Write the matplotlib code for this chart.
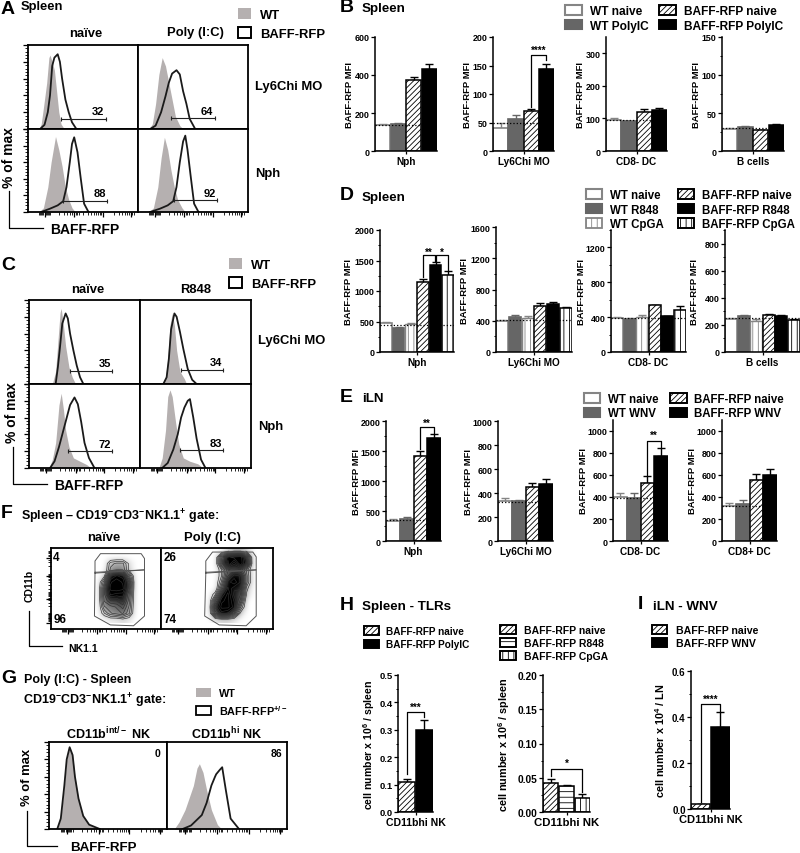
import numpy as np
import matplotlib
matplotlib.use('Agg')
import matplotlib.pyplot as plt
from matplotlib.lines import Line2D
from matplotlib.patches import Patch
from matplotlib.ticker import AutoMinorLocator

W, H = 800, 854
plt.rcParams['font.family'] = ['Liberation Sans', 'DejaVu Sans']
plt.rcParams['font.weight'] = 'bold'
plt.rcParams['axes.labelweight'] = 'bold'
plt.rcParams['hatch.linewidth'] = 0.6
plt.rcParams['mathtext.fontset'] = 'custom'
plt.rcParams['mathtext.bf'] = 'Liberation Sans:bold'
plt.rcParams['mathtext.rm'] = 'Liberation Sans:bold'
plt.rcParams['mathtext.default'] = 'bf'

GREY_FILL = '#b5b0b0'
MID = '#666666'
EDGE = '#858585'

# bar data, one list per group of bars
B_NPH, B_NPH_ERR = [135, 140, 372, 432], [8, 10, 20, 27]
B_LY, B_LY_ERR = [41, 57, 70, 143], [8, 6, 4, 9]
B_CD8, B_CD8_ERR = [95, 91, 120, 125], [6, 2, 8, 6]
B_BC, B_BC_ERR = [29, 31, 27, 34], [1.5, 1.5, 1, 1]
D_NPH, D_NPH_ERR = [470, 400, 465, 1140, 1430, 1265], [30, 15, 12, 50, 40, 65]
D_LY, D_LY_ERR = [400, 450, 440, 585, 615, 565], [10, 25, 15, 40, 30, 15]
D_CD8, D_CD8_ERR = [385, 380, 405, 535, 410, 480], [15, 10, 25, 8, 5, 45]
D_BC, D_BC_ERR = [245, 265, 230, 275, 265, 235], [8, 8, 15, 6, 5, 5]
E_NPH, E_NPH_ERR = [330, 365, 1420, 1715], [30, 35, 80, 65]
E_LY, E_LY_ERR = [335, 330, 450, 478], [20, 12, 30, 35]
E_CD8N, E_CD8N_ERR = [400, 395, 525, 775], [35, 40, 65, 70]
E_CD8P, E_CD8P_ERR = [318, 335, 555, 600], [25, 35, 50, 55]
H_POLY, H_POLY_ERR = [0.11, 0.30], [0.012, 0.037]
H_TLR, H_TLR_ERR = [0.043, 0.038, 0.021], [0.005, 0.002, 0.005]
I_WNV, I_WNV_ERR = [0.02, 0.358], [0.003, 0.063]

# histograms, x and height as a fraction of the plot
A1_WT = ([.10, .12, .14, .17, .19, .20, .22, .24, .26, .28, .30, .33], [0, .06, .25, .55, .85, .88, .8, .7, .45, .2, .06, 0])
A1_RFP = ([.11, .15, .18, .20, .22, .24, .27, .29, .31, .34, .37, .40, .44], [0, .05, .2, .4, .75, .85, .89, .8, .6, .35, .2, .08, 0])
A2_WT = ([.10, .13, .16, .19, .22, .25, .28, .31, .34, .38, .41], [0, .06, .3, .65, .85, .75, .55, .35, .15, .04, 0])
A2_RFP = ([.11, .16, .21, .25, .28, .31, .35, .38, .41, .44, .47, .52], [0, .04, .2, .39, .55, .66, .7, .65, .45, .3, .12, 0])
A3_WT = ([.10, .14, .18, .21, .25, .28, .31, .34, .37, .40, .43], [0, .05, .3, .6, .91, .75, .55, .3, .15, .05, 0])
A3_RFP = ([.12, .2, .27, .32, .35, .38, .40, .42, .45, .48, .51, .55], [0, .04, .08, .13, .3, .6, .82, .9, .72, .4, .1, 0])
A4_WT = ([.10, .14, .18, .21, .24, .27, .30, .33, .36, .40, .43], [0, .05, .3, .65, .9, .75, .5, .3, .15, .05, 0])
A4_RFP = ([.11, .2, .27, .32, .35, .38, .41, .43, .45, .48, .51, .55], [0, .04, .08, .13, .3, .6, .85, .92, .75, .42, .1, 0])
C1_WT = ([.21, .24, .26, .28, .29, .31, .33, .36, .39, .42], [0, .15, .5, .85, .9, .7, .45, .2, .08, 0])
C1_RFP = ([.24, .26, .28, .30, .33, .35, .37, .40, .43, .46, .49], [0, .2, .45, .72, .84, .78, .6, .4, .22, .08, 0])
C2_WT = ([.20, .23, .25, .27, .29, .31, .33, .36, .40, .42], [0, .08, .3, .7, .84, .7, .4, .15, .06, 0])
C2_RFP = ([.21, .24, .26, .28, .31, .33, .36, .39, .43, .47, .51], [0, .08, .3, .65, .84, .8, .62, .42, .18, .05, 0])
C3_WT = ([.18, .21, .24, .27, .29, .31, .33, .36, .40, .46, .52, .56], [0, .1, .3, .75, .89, .7, .45, .25, .12, .08, .04, 0])
C3_RFP = ([.19, .23, .27, .31, .34, .37, .41, .44, .47, .50, .54, .59], [0, .08, .25, .45, .6, .75, .84, .76, .55, .3, .12, 0])
C4_WT = ([.17, .20, .23, .25, .27, .29, .32, .35, .39, .45, .52, .57], [0, .12, .45, .85, .93, .85, .55, .28, .12, .08, .05, 0])
C4_RFP = ([.20, .25, .30, .34, .37, .40, .43, .45, .48, .51, .55, .59], [0, .06, .22, .4, .6, .72, .8, .82, .6, .35, .1, 0])
G1_WT = ([.07, .10, .13, .15, .175, .20, .22, .25, .29, .34, .43], [0, .12, .5, .8, .94, .85, .6, .35, .15, .05, 0])
G2_WT = ([.06, .10, .15, .19, .22, .25, .27, .30, .33, .37, .42, .455], [0, .08, .22, .38, .5, .7, .75, .65, .45, .22, .05, 0])
G2_RFP = ([.13, .20, .245, .29, .33, .37, .40, .41, .44, .46, .49, .53, .60], [0, .04, .1, .16, .3, .5, .6, .63, .68, .71, .45, .12, 0])

A_GATES = [(.30, .71, .12, '32'), (.30, .70, .13, '64'), (.32, .72, .135, '88'), (.33, .72, .14, '92')]
C_GATES = [(.37, .75, .16, '35'), (.37, .75, .17, '34'), (.35, .75, .20, '72'), (.36, .75, .21, '83')]

F_NAIVE = [[0, 0, 0, 0, 0, 0, 0, 0],
           [0, 0, 0, 0, 0, 0, 0, 0],
           [0, 0, .25, .3, .3, .1, 0, 0],
           [0, 0, .3, .35, .35, .1, 0, 0],
           [0, .1, .75, .85, .8, .4, 0, 0],
           [0, .35, .9, 1, .9, .6, 0, 0],
           [0, .5, .95, 1, .95, .55, 0, 0],
           [0, .5, .85, .8, .8, .45, 0, 0],
           [0, .45, .6, .6, .7, .4, 0, 0],
           [0, .35, .4, .45, .55, .35, 0, 0],
           [0, .2, .35, .4, .45, .3, 0, 0],
           [0, 0, .05, .05, .1, .05, 0, 0]]
F_POLY = [[0, 0, 0, .1, .2, .2, .1, 0],
          [0, 0, .5, .9, .95, 1, .6, 0],
          [0, 0, .55, .95, .7, 1, .7, 0],
          [0, 0, .2, .5, .55, .5, .25, 0],
          [0, 0, .2, .6, .8, .75, .3, 0],
          [0, 0, .3, .8, .9, .75, .3, 0],
          [0, 0, .45, .85, .7, .7, .15, 0],
          [0, .2, .75, .95, .65, .6, .1, 0],
          [0, .5, .9, .95, .75, .5, 0, 0],
          [0, .7, .95, .95, .8, .3, 0, 0],
          [0, .55, .8, .75, .5, .1, 0, 0],
          [0, .05, .1, .1, .05, 0, 0, 0]]
# gate outlines, axes fractions
F1_UP = ([.40, .40, .45, .82, .85, .85, .40], [.70, .84, .93, .93, .87, .73, .70])
F1_LOW = ([.40, .395, .54, .75, .85, .85, .40], [.69, .16, .05, .04, .16, .73, .69])
F2_UP = ([.40, .40, .46, .82, .85, .85, .40], [.70, .84, .95, .95, .89, .73, .70])
F2_LOW = ([.40, .39, .52, .76, .85, .85, .40], [.69, .16, .05, .04, .16, .73, .69])

fig = plt.figure(figsize=(W / 100, H / 100), dpi=100)


def txt(x, y, s, size=9.4, ha='left', rot=0, va='center'):
    fig.text(x / W, 1 - y / H, s, fontsize=size, ha=ha, va=va, rotation=rot, fontweight='bold')


def make_ax(l, t, r, b):
    return fig.add_axes([l / W, 1 - b / H, (r - l) / W, (b - t) / H])


def corner(x0, y0, y1, x1):
    fig.add_artist(Line2D([x0 / W, x0 / W, x1 / W], [1 - y0 / H, 1 - y1 / H, 1 - y1 / H],
                          transform=fig.transFigure, color='k', lw=0.9))


def legend(x, y, handles, labels, size, ncol=1, hl=1.43, hh=.85, pad=.67, cs=.84, ls=.25):
    fig.legend(handles, labels, loc='upper left', bbox_to_anchor=(x / W, 1 - y / H),
               bbox_transform=fig.transFigure, frameon=False, ncol=ncol, borderpad=0,
               borderaxespad=0, handlelength=hl, handleheight=hh, handletextpad=pad,
               columnspacing=cs, labelspacing=ls, prop={'weight': 'bold', 'size': size})


def log_ticks():
    pos = list(np.linspace(.10, .20, 11))
    for d in [.20, .42, .70]:
        pos += list(d + .26 * np.log10(np.arange(2, 11)))
    return pos


def facs_frame(ax, left=False, bottom=True):
    ax.set_xlim(0, 1)
    ax.set_ylim(0, 1)
    for s in ax.spines.values():
        s.set_linewidth(1.3)
    if bottom:
        ax.set_xticks([.42, .68, .94, .15])
        ax.set_xticks(log_ticks(), minor=True)
    else:
        ax.set_xticks([])
    ax.tick_params(axis='x', which='major', length=3.5, width=.9, labelbottom=False)
    ax.tick_params(axis='x', which='minor', length=2, width=.6)
    if left:
        ax.set_yticks(np.arange(0, 1.01, .2))
        ax.set_yticks(np.arange(0, 1.01, .04), minor=True)
    else:
        ax.set_yticks([])
    ax.tick_params(axis='y', which='major', length=3.5, width=.9, labelleft=False)
    ax.tick_params(axis='y', which='minor', length=2, width=.6)


def hist(ax, wt, rfp=None):
    ax.fill_between(wt[0], wt[1], color=GREY_FILL, lw=0)
    if rfp is None:
        rfp = wt
    ax.plot(rfp[0], rfp[1], color='#1a1a1a', lw=1.3)


def gate(ax, g):
    x0, x1, y, s = g
    ax.plot([x0, x1], [y, y], color='#222222', lw=.8, marker='|', ms=3.5, mew=.8)
    ax.text(x1 - .07, y + .03, s, ha='center', va='bottom', fontsize=8)


def bars(rect, vals, errs, style, ymax, step, cat, dot=None, dx=26, tick_fs=6.4, lab_fs=6.8,
         cat_fs=7.2, ylabel='BAFF-RFP MFI', fmt=None, minor=True):
    l, t, r, b = rect
    ax = make_ax(l, t, r, b)
    x = np.arange(len(vals))
    for i in x:
        fc, ec, ha, lw = style[i]
        ax.bar(i, vals[i], width=.97, facecolor=fc, edgecolor=ec, hatch=ha, linewidth=lw, zorder=2)
        ax.errorbar(i, vals[i], yerr=[[0], [errs[i]]], color=ec if fc != 'black' else 'k', capsize=2.6,
                    lw=1, capthick=1, zorder=1)
    if dot is not None:
        ax.axhline(dot, color='k', ls=':', lw=.9, zorder=3)
    ax.set_xlim(-.5, len(vals) - .5)
    ax.set_ylim(0, ymax)
    ax.patch.set_alpha(0)
    ax.spines['top'].set_visible(False)
    ax.spines['right'].set_visible(False)
    ax.spines['left'].set_linewidth(1.1)
    ax.spines['bottom'].set_linewidth(1.1)
    ax.set_xticks([(len(vals) - 1) / 2])
    ax.set_xticklabels([cat], fontsize=cat_fs)
    ticks = np.arange(0, ymax + step * .01, step)
    ax.set_yticks(ticks)
    if fmt:
        ax.set_yticklabels([fmt % v for v in ticks])
    if minor:
        ax.yaxis.set_minor_locator(AutoMinorLocator(2))
    ax.tick_params(axis='y', which='major', labelsize=tick_fs, length=2.6, width=.9, pad=1.2)
    ax.tick_params(axis='y', which='minor', length=1.5, width=.7)
    ax.tick_params(axis='x', length=2.4, width=.9, pad=1.5)
    ax.set_ylabel(ylabel, fontsize=lab_fs)
    # label coords set the right edge of the rotated text
    ax.yaxis.set_label_coords(-(dx - 5) / (r - l), .5)
    return ax


def bracket(ax, x0, y0, x1, y1, top, s, ys):
    ax.plot([x0, x0, x1, x1], [y0, top, top, y1], color='k', lw=.9, zorder=4, clip_on=False)
    ax.text((x0 + x1) / 2, ys, s, ha='center', va='center', fontsize=7, clip_on=False)


# bar and legend styles: face, edge, hatch, edge width
WT_N = ('white', EDGE, None, 1.2)
WT_T = (MID, MID, None, 1.2)
WT_C = ('white', EDGE, '|||', 1.0)
RF_N = ('white', 'k', '//////', 1.1)
RF_T = ('black', 'k', None, 1.1)
RF_C = ('white', 'k', '|||', 1.1)
RF_R = ('white', 'k', '---', 1.1)


def ph(st):
    return Patch(facecolor=st[0], edgecolor=st[1], hatch=st[2], linewidth=st[3] + .3)


# --- A
txt(1, 9, 'A', 14)
txt(21, 7, 'Spleen')
txt(86, 34, 'naïve', ha='center')
txt(195, 33, 'Poly (I:C)', ha='center')
txt(255, 87, 'Ly6Chi MO')
txt(255, 174, 'Nph')
txt(9, 158, '% of max', 10, ha='center', rot=90)
txt(85, 230, 'BAFF-RFP', 10, ha='center')
corner(9, 192, 229, 43)
legend(238, 9, [Patch(fc=GREY_FILL, ec='none'), Patch(fc='white', ec='k', lw=1.4)], ['WT', 'BAFF-RFP'], 9.4,
       hl=1.0, hh=.95, pad=.72, ls=.42)
for (rc, wt, rf, g, lft, btm) in [((28, 46, 138, 130), A1_WT, A1_RFP, A_GATES[0], True, False),
                                   ((138, 46, 248, 130), A2_WT, A2_RFP, A_GATES[1], False, False),
                                   ((28, 130, 138, 213), A3_WT, A3_RFP, A_GATES[2], True, True),
                                   ((138, 130, 248, 213), A4_WT, A4_RFP, A_GATES[3], False, True)]:
    ax = make_ax(*rc)
    hist(ax, wt, rf)
    gate(ax, g)
    facs_frame(ax, lft, btm)

# --- C
txt(1, 265, 'C', 14)
txt(88, 290, 'naïve', ha='center')
txt(196, 290, 'R848', ha='center')
txt(258, 341, 'Ly6Chi MO')
txt(258, 427, 'Nph')
txt(12, 413, '% of max', 10, ha='center', rot=90)
txt(89, 486, 'BAFF-RFP', 10, ha='center')
corner(13, 448, 485, 47)
legend(229, 259, [Patch(fc=GREY_FILL, ec='none'), Patch(fc='white', ec='k', lw=1.4)], ['WT', 'BAFF-RFP'], 9.4,
       hl=1.0, hh=.95, pad=.72, ls=.42)
for (rc, wt, rf, g, lft, btm) in [((29, 301, 140, 385), C1_WT, C1_RFP, C_GATES[0], True, False),
                                   ((140, 301, 251, 385), C2_WT, C2_RFP, C_GATES[1], False, False),
                                   ((29, 385, 140, 469), C3_WT, C3_RFP, C_GATES[2], True, True),
                                   ((140, 385, 251, 469), C4_WT, C4_RFP, C_GATES[3], False, True)]:
    ax = make_ax(*rc)
    hist(ax, wt, rf)
    gate(ax, g)
    facs_frame(ax, lft, btm)

# --- F
txt(1, 514, 'F', 14)
txt(21, 517, 'Spleen – CD19$^{-}$CD3$^{-}$NK1.1$^{+}$ gate:', 9)
txt(104, 538, 'naïve', ha='center')
txt(212, 538, 'Poly (I:C)', ha='center')
txt(30, 586, 'CD11b', 7.5, ha='center', rot=90)
txt(83, 649, 'NK1.1', 7.5, ha='center')
corner(29, 612, 647, 62)
for (rc, dens, up, low, ext, n1, n2, lft) in [((51, 549, 161, 630), F_NAIVE, F1_UP, F1_LOW, [.40, .85, .08, 1], '4', '96', True),
                                              ((161, 549, 273, 630), F_POLY, F2_UP, F2_LOW, [.40, .85, .08, 1], '26', '74', False)]:
    ax = make_ax(*rc)
    dens = np.array(dens)
    ax.imshow(dens, cmap='gray_r', vmin=0, vmax=.8, extent=ext, aspect='auto', interpolation='bicubic', zorder=1)
    cx = np.linspace(ext[0], ext[1], dens.shape[1] + 1)
    cy = np.linspace(ext[3], ext[2], dens.shape[0] + 1)
    cx = (cx[:-1] + cx[1:]) / 2
    cy = (cy[:-1] + cy[1:]) / 2
    ax.contour(cx, cy, dens, levels=np.arange(.12, 1, .08), colors='#303030', linewidths=.45, zorder=2)
    ax.plot(up[0], up[1], color='#555555', lw=.7, zorder=3)
    ax.plot(low[0], low[1], color='#555555', lw=.7, zorder=3)
    ax.text(.02, .89, n1, fontsize=8.5, va='center', zorder=4)
    ax.text(.02, .12, n2, fontsize=8.5, va='center', zorder=4)
    facs_frame(ax, lft, True)
    if lft:
        ax.set_yticks([.08, .37, .65, .88])
        ax.set_yticks(log_ticks(), minor=True)

# --- G
txt(1, 679, 'G', 14)
txt(24, 680, 'Poly (I:C) - Spleen', 9)
txt(23, 701, 'CD19$^{-}$CD3$^{-}$NK1.1$^{+}$ gate:', 9)
legend(196, 689, [Patch(fc=GREY_FILL, ec='none'), Patch(fc='white', ec='k', lw=1.3)], ['WT', 'BAFF-RFP$^{+/-}$'], 7.8,
       hl=1.35, hh=.9, pad=.75, ls=.42)
txt(109, 734, 'CD11b$^{int/-}$ NK', 9, ha='center')
txt(227, 734, 'CD11b$^{hi}$ NK', 9, ha='center')
txt(27, 777, '% of max', 9.4, ha='center', rot=90)
txt(103, 848, 'BAFF-RFP', 9.6, ha='center')
corner(27, 812, 847, 57)
ax = make_ax(49, 743, 167, 830)
hist(ax, G1_WT)
ax.text(.94, .87, '0', ha='right', va='center', fontsize=7.5)
facs_frame(ax, True, True)
ax = make_ax(167, 743, 287, 830)
hist(ax, G2_WT, G2_RFP)
ax.text(.96, .87, '86', ha='right', va='center', fontsize=7.5)
facs_frame(ax, False, True)

# --- B
txt(340, 8, 'B', 14)
txt(362, 9, 'Spleen', 9.6)
legend(565, 6, [ph(WT_N), ph(WT_T), ph(RF_N), ph(RF_T)],
       ['WT naive', 'WT PolyIC', 'BAFF-RFP naive', 'BAFF-RFP PolyIC'], 8.6, ncol=2, ls=.22)
st4 = [WT_N, WT_T, RF_N, RF_T]
bars((375, 38, 437, 152), B_NPH, B_NPH_ERR, st4, 600, 200, 'Nph', 135, minor=False)
ax = bars((493, 38, 554, 152), B_LY, B_LY_ERR, st4, 200, 50, 'Ly6Chi MO', 50, minor=False)
bracket(ax, 2, 78, 3, 160, 169, '****', 178)
bars((606, 38, 667, 152), B_CD8, B_CD8_ERR, st4, 350, 100, 'CD8- DC', 95, minor=False)
bars((722, 38, 784, 152), B_BC, B_BC_ERR, st4, 150, 50, 'B cells', 30)

# --- D
txt(340, 196, 'D', 14)
txt(362, 198, 'Spleen', 9.6)
legend(586, 190, [ph(WT_N), ph(WT_T), ph(WT_C), ph(RF_N), ph(RF_T), ph(RF_C)],
       ['WT naive', 'WT R848', 'WT CpGA', 'BAFF-RFP naive', 'BAFF-RFP R848', 'BAFF-RFP CpGA'], 8.3, ncol=2,
       cs=1.2, ls=.22)
st6 = [WT_N, WT_T, WT_C, RF_N, RF_T, RF_C]
ax = bars((380, 231, 454, 353), D_NPH, D_NPH_ERR, st6, 2000, 500, 'Nph', 450, dx=32)
bracket(ax, 3, 1234, 3.95, 1490, 1590, '**', 1650)
bracket(ax, 4.05, 1490, 5, 1350, 1590, '*', 1650)
bars((496, 228, 572, 353), D_LY, D_LY_ERR, st6, 1600, 400, 'Ly6Chi MO', 415, dx=32)
bars((611, 231, 686, 353), D_CD8, D_CD8_ERR, st6, 1400, 400, 'CD8- DC', 385, dx=30)
bars((725, 231, 800, 353), D_BC, D_BC_ERR, st6, 900, 200, 'B cells', 250, dx=31)

# --- E
txt(340, 398, 'E', 14)
txt(362, 399, 'iLN', 9.6)
legend(584, 394, [ph(WT_N), ph(WT_T), ph(RF_N), ph(RF_T)],
       ['WT naive', 'WT WNV', 'BAFF-RFP naive', 'BAFF-RFP WNV'], 8.3, ncol=2, cs=1.0, ls=.2)
ax = bars((386, 422, 441, 542), E_NPH, E_NPH_ERR, st4, 2000, 500, 'Nph', 350, dx=30)
bracket(ax, 2, 1530, 3, 1805, 1900, '**', 1970)
bars((498, 422, 553, 542), E_LY, E_LY_ERR, st4, 1000, 200, 'Ly6Chi MO', 325, dx=30, minor=False)
ax = bars((613, 421, 668, 542), E_CD8N, E_CD8N_ERR, st4, 1100, 200, 'CD8- DC', 395, dx=30, minor=False)
bracket(ax, 2, 600, 3, 857, 912, '**', 965)
bars((722, 421, 777, 542), E_CD8P, E_CD8P_ERR, st4, 1100, 200, 'CD8+ DC', 320, dx=30, minor=False)

# --- H
txt(340, 606, 'H', 14)
txt(362, 607, 'Spleen - TLRs', 9.6)
legend(364, 627, [ph(RF_N), ph(RF_T)], ['BAFF-RFP naive', 'BAFF-RFP PolyIC'], 7.2, hl=1.5, hh=.9, pad=.7, ls=.35)
legend(500, 626, [ph(RF_N), ph(RF_R), ph(RF_C)], ['BAFF-RFP naive', 'BAFF-RFP R848', 'BAFF-RFP CpGA'], 7.5,
       hl=1.5, hh=.9, pad=.85, ls=.28)
ylab6 = 'cell number x 10$^{6}$ / spleen'
ax = bars((398, 676, 433, 813), H_POLY, H_POLY_ERR, [RF_N, RF_T], .5, .1, 'CD11bhi NK', None, dx=26, tick_fs=6.8,
          lab_fs=7.6, cat_fs=7.6, ylabel=ylab6, fmt='%.1f')
bracket(ax, 0, .138, 1, .345, .366, '***', .385)
ax = bars((543, 676, 590, 813), H_TLR, H_TLR_ERR, [RF_N, RF_R, RF_C], .2, .05, 'CD11bhi NK', None, dx=36, tick_fs=7.4,
          lab_fs=7.8, cat_fs=8.2, ylabel=ylab6, fmt='%.2f')
bracket(ax, 0, .052, 2, .029, .0625, '*', .0715)

# --- I
txt(638, 605, 'I', 14)
txt(653, 607, 'iLN - WNV', 9.6)
legend(652, 626, [ph(RF_N), ph(RF_T)], ['BAFF-RFP naive', 'BAFF-RFP WNV'], 7.6, hl=1.45, hh=.9, pad=.8, ls=.32)
ax = bars((691, 672, 730, 810), I_WNV, I_WNV_ERR, [RF_N, RF_T], .6, .2, 'CD11bhi NK', None, dx=29, tick_fs=7,
          lab_fs=7.8, cat_fs=8, ylabel='cell number x 10$^{4}$ / LN', fmt='%.1f')
bracket(ax, 0, .029, 1, .423, .457, '****', .48)

fig.savefig('out.png', dpi=100)
